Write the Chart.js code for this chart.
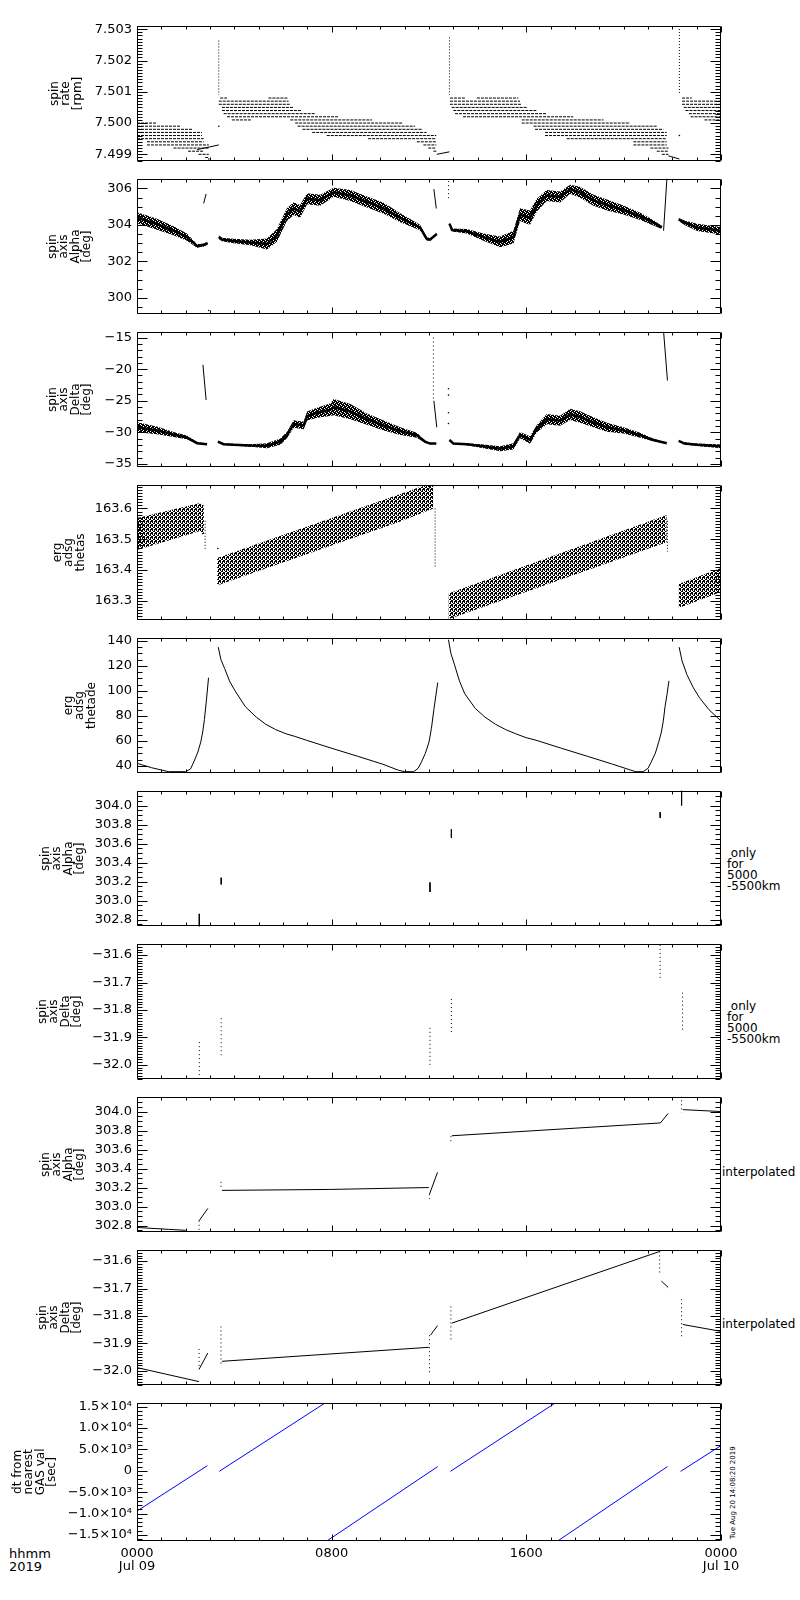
<!DOCTYPE html>
<html lang="en">
<head>
<meta charset="utf-8">
<title>spin axis / erg adsg</title>
<script src="https://cdn.jsdelivr.net/npm/chart.js@4.4.1/dist/chart.umd.min.js"></script>
<style>
  body { margin: 0; background: #fff; }
  #page { position: relative; width: 800px; height: 1600px; font-family: "DejaVu Sans", sans-serif; color: #000; overflow: hidden; }
  #page canvas { position: absolute; left: 0; }
  .side { position: absolute; font-size: 12px; line-height: 11px; white-space: nowrap; }
  .stamp { position: absolute; font-size: 7px; line-height: 8px; white-space: nowrap; transform: rotate(-90deg); transform-origin: 0 0; }
</style>
</head>
<body>
<div id="page">
  <div class="side" style="left:727px;top:848px">&nbsp;only<br>for<br>5000<br>-5500km</div>
  <div class="side" style="left:727px;top:1001px">&nbsp;only<br>for<br>5000<br>-5500km</div>
  <div class="side" style="left:722px;top:1166px;line-height:12px">interpolated</div>
  <div class="side" style="left:722px;top:1318px;line-height:12px">interpolated</div>
  <div class="side" style="left:9px;top:1547px;font-size:13px;line-height:13px">hhmm<br>2019</div>
  <div class="stamp" style="left:729px;top:1539px">Tue Aug 20 14:08:20 2019</div>
</div>
<script>
// ---- time axis (hours from 0000 Jul 09) ----
const HOURS_MAJOR = [0, 8, 16, 24];
const X_LABELS = [['0000', 'Jul 09'], '0800', '1600', ['0000', 'Jul 10']];

// ---- panel 1: spin rate [rpm], quantised rows [level, from h, to h] ----
const rateRows = [
  [7.5000, 0, 0.82], [7.4999, 0, 1.78], [7.4998, 0, 2.26], [7.4997, 0, 2.67], [7.4996, 0, 2.67],
  [7.4995, 0, 2.74], [7.4994, 0.41, 2.74], [7.4993, 0.41, 2.95], [7.4992, 1.5, 2.95], [7.4991, 2.1, 2.74],
  [7.4990, 2.53, 2.95], [7.4989, 2.8, 2.95],
  [7.5008, 3.42, 3.7], [7.5008, 5.4, 6.2], [7.5007, 3.36, 6.23], [7.5006, 3.36, 6.3], [7.5005, 3.49, 6.44],
  [7.5004, 3.49, 6.78], [7.5003, 3.56, 7.33], [7.5002, 3.7, 8.29], [7.5001, 3.9, 4.7], [7.5001, 6.3, 9.66],
  [7.5000, 6.5, 10.9], [7.4999, 6.6, 11.43], [7.4998, 6.8, 11.74], [7.4997, 7.2, 11.9], [7.4996, 7.8, 12.3],
  [7.4995, 9.5, 12.3], [7.4994, 11.5, 12.3], [7.4993, 11.77, 12.3], [7.4992, 11.97, 12.3], [7.4991, 12.18, 12.3],
  [7.5008, 12.86, 13.49], [7.5008, 13.97, 15.67], [7.5007, 12.86, 15.74], [7.5006, 12.86, 15.81], [7.5005, 12.93, 16.02],
  [7.5004, 13.0, 16.43], [7.5003, 13.07, 16.84], [7.5002, 13.4, 17.93], [7.5001, 15.81, 19.17], [7.5000, 15.81, 20.26],
  [7.4999, 16.3, 21.36], [7.4998, 16.36, 21.63], [7.4997, 16.77, 21.77], [7.4996, 16.77, 21.77], [7.4995, 17.66, 21.77],
  [7.4994, 20.4, 21.77], [7.4993, 20.4, 21.77], [7.4992, 21.1, 21.84], [7.4991, 21.36, 21.84], [7.4990, 21.57, 21.84],
  [7.5008, 22.4, 22.8], [7.5007, 22.4, 24], [7.5006, 22.4, 24], [7.5005, 22.47, 24], [7.5004, 22.54, 24],
  [7.5003, 22.68, 24], [7.5002, 22.75, 24], [7.5001, 23.32, 24]
];
const rateRuns = [[3.36, 7.50264, 7.5009], [12.84, 7.50274, 7.5009], [22.29, 7.5032, 7.5009]];
const rateLinks = [[2.47, 7.49915, 3.36, 7.4993], [12.32, 7.4990, 12.84, 7.49908], [21.84, 7.49895, 22.29, 7.49885]];
const rateDots = [[3.36, 7.4999], [22.29, 7.4996], [2.95, 7.49885]];

// ---- panel 2: spin axis Alpha [deg], band centre and spread per orbit ----
const alphaH = [
  [0, 0.82, 1.5, 2.05, 2.47, 2.74, 2.9],
  [3.36, 3.49, 3.97, 4.66, 5.34, 5.75, 6.16, 6.44, 6.7, 6.99, 7.53, 8.08, 8.77, 9.45, 10.14, 10.82, 11.63, 11.9, 12.04, 12.32],
  [12.84, 12.95, 13.55, 14.24, 14.92, 15.47, 15.74, 16.15, 16.43, 16.84, 17.39, 17.8, 18.21, 18.76, 19.31, 19.99, 20.68, 21.22, 21.57],
  [22.26, 22.5, 23.02, 24]
];
const alphaMid = [
  [304.39, 304.04, 303.68, 303.33, 302.84, 302.9, 303.0],
  [303.33, 303.2, 303.12, 303.04, 302.95, 303.42, 304.56, 304.9, 304.74, 305.44, 305.35, 305.79, 305.61, 305.26, 304.91, 304.39, 303.86, 303.25, 303.19, 303.5],
  [304.07, 303.72, 303.65, 303.33, 303.07, 303.33, 304.56, 304.39, 305.09, 305.61, 305.53, 305.96, 305.79, 305.35, 305.09, 304.82, 304.47, 304.12, 303.86],
  [304.3, 304.12, 303.86, 303.68]
];
const alphaSpread = [
  [0.3, 0.3, 0.25, 0.2, 0.1, 0.08, 0.08],
  [0.1, 0.1, 0.12, 0.15, 0.3, 0.35, 0.35, 0.35, 0.35, 0.3, 0.3, 0.25, 0.3, 0.3, 0.3, 0.25, 0.15, 0.1, 0.08, 0.05],
  [0.05, 0.08, 0.12, 0.2, 0.3, 0.35, 0.35, 0.4, 0.35, 0.3, 0.3, 0.25, 0.3, 0.3, 0.3, 0.25, 0.2, 0.15, 0.08],
  [0.08, 0.12, 0.2, 0.2]
];
const alphaJumps = [[2.74, 305.18, 2.84, 305.7], [12.2, 305.96, 12.3, 304.9], [21.64, 303.68, 21.78, 306.6]];
const alphaRuns = [[12.8, 306.4, 305.44]];
const alphaDots = [[2.95, 299.3]];

// ---- panel 3: spin axis Delta [deg] ----
const deltaH = [
  [0, 0.82, 1.5, 2.05, 2.47, 2.88],
  [3.32, 3.56, 3.97, 4.66, 5.34, 5.89, 6.16, 6.44, 6.85, 6.99, 7.4, 7.95, 8.08, 8.77, 9.45, 10.14, 10.82, 11.5, 11.84, 12.04, 12.3],
  [12.84, 13.0, 13.55, 14.24, 14.92, 15.47, 15.74, 16.15, 16.43, 16.84, 17.39, 17.8, 18.21, 18.76, 19.31, 19.99, 20.68, 21.22, 21.77],
  [22.26, 22.5, 23.02, 24]
];
const deltaMid = [
  [-29.18, -29.68, -30.34, -30.8, -31.7, -31.86],
  [-31.46, -31.86, -31.96, -32.06, -32.1, -31.46, -30.44, -28.67, -28.9, -27.4, -26.9, -26.4, -26.0, -26.7, -27.9, -28.9, -29.8, -30.44, -31.46, -31.76, -31.76],
  [-31.2, -31.76, -31.86, -32.2, -32.57, -32.2, -30.44, -31.2, -29.43, -27.9, -28.16, -27.15, -27.56, -28.4, -29.18, -29.68, -30.44, -31.2, -31.7],
  [-31.35, -31.76, -31.96, -32.2]
];
const deltaSpread = [
  [0.8, 0.6, 0.4, 0.3, 0.15, 0.1],
  [0.1, 0.1, 0.15, 0.2, 0.4, 0.5, 0.5, 0.6, 0.6, 0.7, 0.8, 1.0, 1.3, 1.2, 0.9, 0.8, 0.6, 0.4, 0.2, 0.1, 0.1],
  [0.1, 0.1, 0.15, 0.3, 0.4, 0.5, 0.5, 0.6, 0.6, 0.8, 0.8, 0.9, 0.9, 0.8, 0.7, 0.5, 0.4, 0.2, 0.1],
  [0.1, 0.15, 0.2, 0.3]
];
const deltaJumps = [[2.71, -19.3, 2.84, -24.87], [12.2, -25, 12.32, -29.2], [21.64, -14.0, 21.8, -21.8]];
const deltaRuns = [[12.18, -15, -25]];
const deltaDots = [[12.8, -23.1], [12.8, -24.1], [12.8, -26.9], [12.8, -28.6]];

// ---- panel 4: erg adsg thetas, band edges per orbit ----
const thetasH = [[0, 2.6, 2.75], [3.29, 10.82, 12.18], [12.8, 21.77], [22.26, 24]];
const thetasLo = [[163.465, 163.527, 163.51], [163.35, 163.558, 163.6], [163.24, 163.49], [163.277, 163.329]];
const thetasHi = [[163.569, 163.618, 163.61], [163.439, 163.647, 163.685], [163.324, 163.579], [163.355, 163.407]];
const thetasRuns = [[2.8, 163.56, 163.465], [12.25, 163.6, 163.41], [21.8, 163.56, 163.46]];
const thetasDots = [[3.32, 163.47]];

// ---- panel 5: erg adsg thetade ----
const thetadeH = [
  [0, 0.6, 1.3, 2.0, 2.2, 2.35, 2.5, 2.62, 2.7, 2.77, 2.85, 2.94],
  [3.34, 3.45, 3.6, 3.8, 4.03, 4.45, 4.9, 5.29, 5.7, 6.13, 6.5, 6.96, 8.01, 9.06, 10.1, 10.74, 11.0, 11.37, 11.55, 11.68, 11.85, 12.0, 12.1, 12.2, 12.28, 12.36],
  [12.8, 12.9, 13.05, 13.25, 13.47, 13.9, 14.3, 14.73, 15.15, 15.57, 16.0, 16.4, 17.45, 18.5, 19.55, 20.3, 20.5, 20.8, 21.0, 21.12, 21.3, 21.44, 21.55, 21.63, 21.7, 21.78, 21.86],
  [22.28, 22.4, 22.6, 22.85, 23.1, 23.5, 24]
];
const thetadeV = [
  [42, 38.5, 35.3, 35.3, 37.5, 43.8, 51, 59, 67, 77, 92, 110.5],
  [135, 125, 118, 108, 100, 87.4, 79, 73.3, 69, 65.6, 63.5, 60.5, 54, 47.7, 41.3, 36.5, 35.3, 35.3, 38, 42.6, 50, 59, 70, 85, 96, 106.7],
  [141, 130, 120.8, 108, 97.7, 86, 79, 73.3, 69, 65.6, 62.5, 60.5, 54, 47.7, 41.3, 36.5, 35.3, 35.3, 38, 42.6, 50, 59, 67, 76, 87.4, 97, 108],
  [135, 124, 113, 103, 95, 85, 76]
];

// ---- panels 6/7: only for 5000-5500 km, vertical runs [h, from, to] ----
const alphaNearRuns = [[2.56, 302.86, 302.72], [3.46, 303.24, 303.17], [12.04, 303.19, 303.09], [12.92, 303.75, 303.66], [21.5, 303.93, 303.87], [22.38, 304.16, 304.0]];
const deltaNearRuns = [[2.56, -31.917, -32.04], [3.46, -31.83, -31.97], [12.04, -31.865, -32.005], [12.92, -31.76, -31.88], [21.5, -31.563, -31.685], [22.42, -31.737, -31.88]];

// ---- panels 8/9: interpolated ----
const alphaIntH = [[0, 1.29, 2.0], [2.55, 2.91], [3.49, 7.9, 11.99], [12.02, 12.35], [12.94, 21.51, 21.83], [22.43, 24]];
const alphaIntV = [[302.78, 302.76, 302.75], [302.85, 302.98], [303.17, 303.18, 303.2], [303.13, 303.36], [303.745, 303.88, 303.98], [304.02, 304.0]];
const alphaIntRuns = [[2.55, 302.85, 302.75], [3.45, 303.26, 303.2], [12.02, 303.13, 303.08], [12.9, 303.74, 303.67], [22.38, 304.16, 303.99]];
const deltaIntH = [[0, 2.55], [2.55, 2.91], [3.49, 11.99], [12.06, 12.35], [12.94, 21.48], [21.55, 21.83], [22.43, 24]];
const deltaIntV = [[-31.988, -32.039], [-31.994, -31.935], [-31.965, -31.914], [-31.87, -31.835], [-31.826, -31.565], [-31.673, -31.696], [-31.831, -31.856]];
const deltaIntRuns = [[2.55, -31.92, -31.994], [3.45, -31.838, -31.976], [12.02, -31.87, -32.01], [12.9, -31.765, -31.888], [21.48, -31.565, -31.65], [22.38, -31.739, -31.88]];

// ---- panel 10: dt from nearest GAS val [sec] ----
const dtH = [[0, 2.89], [3.38, 7.74], [7.80, 12.36], [12.88, 17.2], [17.29, 21.8], [22.34, 24]];
const dtV = [[-9400, 1200], [-120, 15900], [-16400, 1000], [-120, 15900], [-16400, 1000], [-120, 5900]];

// ---- layout ----
const PANEL_TOP = [23, 176, 329, 482, 635, 788, 941, 1094, 1247, 1400];
const PANEL_H = 141;
const FONT = '"DejaVu Sans", sans-serif';
Chart.defaults.font.family = FONT;
Chart.defaults.color = '#000';

// helpers that turn the arrays above into Chart.js points
function curve(h, v) { return h.map((x, i) => ({ x: x, y: v[i] })); }
function joined(hs, vs) {
  const out = [];
  hs.forEach((h, j) => { out.push(...curve(h, vs[j])); out.push({ x: h[h.length - 1], y: null }); });
  return out;
}
function runs(list) {
  const out = [];
  list.forEach(r => { out.push({ x: r[0], y: r[1] }, { x: r[0], y: r[2] }, { x: r[0], y: null }); });
  return out;
}
function rows(list) {
  const out = [];
  list.forEach(r => { out.push({ x: r[1], y: r[0] }, { x: r[2], y: r[0] }, { x: r[2], y: null }); });
  return out;
}
function jumps(list) {
  const out = [];
  list.forEach(r => { out.push({ x: r[0], y: r[1] }, { x: r[2], y: r[3] }, { x: r[2], y: null }); });
  return out;
}
function dots(list) { return list.map(p => ({ x: p[0], y: p[1] })); }

function pattern(size, bits) {
  const c = document.createElement('canvas');
  c.width = size; c.height = size;
  const g = c.getContext('2d');
  g.fillStyle = '#000';
  bits.forEach(b => g.fillRect(b[0], b[1], 1, 1));
  return g.createPattern(c, 'repeat');
}
// speckled core for the noisy attitude bands, vertical hatch for thetas
const STIPPLE = pattern(4, [[0, 0], [1, 0], [3, 0], [1, 1], [2, 1], [3, 1], [0, 2], [2, 2], [3, 2], [0, 3], [1, 3], [2, 3]]);
const HATCH = pattern(4, [[0, 0], [0, 1], [0, 2], [2, 1], [2, 2], [2, 3], [1, 3], [3, 0], [3, 1]]);

function solid(data, color, width) {
  return { data: data, borderColor: color || '#000', borderWidth: width || 1, pointRadius: 0, tension: 0, fill: false };
}
function dashed(data, dash) {
  return { data: data, borderColor: '#000', borderWidth: 1, borderDash: dash, pointRadius: 0, tension: 0, fill: false };
}
function points(data) {
  return { data: data, showLine: false, pointRadius: 0.8, pointBackgroundColor: '#000', pointBorderWidth: 0, borderColor: '#000' };
}
function envelope(hs, lo, hi, fillStyle) {
  const sets = [];
  hs.forEach((h, j) => {
    sets.push({ data: curve(h, lo[j]), borderWidth: 0, borderColor: 'rgba(0,0,0,0)', pointRadius: 0, tension: 0, fill: false });
    sets.push({ data: curve(h, hi[j]), borderWidth: 0, borderColor: 'rgba(0,0,0,0)', pointRadius: 0, tension: 0, fill: '-1', backgroundColor: fillStyle });
  });
  return sets;
}
function spreadBand(hs, mid, spread, fillStyle) {
  const lo = mid.map((m, j) => m.map((v, i) => v - spread[j][i]));
  const hi = mid.map((m, j) => m.map((v, i) => v + spread[j][i]));
  return envelope(hs, lo, hi, fillStyle);
}

// IDL style frame with inward major/minor ticks on all four sides
const idlFrame = {
  id: 'idl',
  afterDatasetsDraw(chart, args, o) {
    const ctx = chart.ctx, a = chart.chartArea, xs = chart.scales.x, ys = chart.scales.y;
    const L = Math.round(a.left) + 0.5, R = Math.round(a.right) - 0.5;
    const T = Math.round(a.top) + 0.5, B = Math.round(a.bottom) - 0.5;
    ctx.save();
    ctx.strokeStyle = '#000';
    ctx.lineWidth = 1;
    ctx.beginPath();
    ctx.rect(L, T, R - L, B - T);
    for (let h = 0; h <= 24; h++) {
      const px = Math.round(xs.getPixelForValue(h)) + 0.5;
      const len = h % 8 === 0 ? 6 : 3;
      ctx.moveTo(px, B); ctx.lineTo(px, B - len);
      ctx.moveTo(px, T); ctx.lineTo(px, T + len);
    }
    const ratio = Math.round(o.major / o.minor);
    const k0 = Math.ceil(ys.min / o.minor - 1e-6), k1 = Math.floor(ys.max / o.minor + 1e-6);
    for (let k = k0; k <= k1; k++) {
      const py = Math.round(ys.getPixelForValue(k * o.minor)) + 0.5;
      const len = ((k % ratio) + ratio) % ratio === 0 ? 10 : 5;
      ctx.moveTo(L, py); ctx.lineTo(L + len, py);
      ctx.moveTo(R, py); ctx.lineTo(R - len, py);
    }
    ctx.stroke();
    ctx.restore();
  }
};

const page = document.getElementById('page');
function panel(idx, cfg) {
  const last = idx === PANEL_TOP.length - 1;
  const h = last ? 201 : PANEL_H + 20;
  const cv = document.createElement('canvas');
  cv.style.top = (PANEL_TOP[idx] - 10) + 'px';
  cv.style.width = '800px';
  cv.style.height = h + 'px';
  cv.width = 800;
  cv.height = h;
  page.appendChild(cv);
  new Chart(cv, {
    type: 'line',
    data: { datasets: cfg.datasets },
    options: {
      responsive: false,
      animation: false,
      events: [],
      layout: { padding: { left: 0, right: 79, top: 10, bottom: 10 } },
      plugins: {
        legend: { display: false },
        tooltip: { enabled: false },
        idl: { minor: cfg.minor, major: cfg.major }
      },
      scales: {
        x: {
          type: 'linear', min: 0, max: 24,
          grid: { display: false, drawTicks: false },
          border: { display: false },
          afterBuildTicks: s => { s.ticks = HOURS_MAJOR.map(v => ({ value: v })); },
          afterFit: s => { s.height = last ? 40 : 0; },
          ticks: {
            display: last, padding: 6, maxRotation: 0, autoSkip: false, color: '#000',
            font: { family: FONT, size: 13, lineHeight: '13px' },
            callback: (v, i) => X_LABELS[i]
          }
        },
        y: {
          type: 'linear', min: cfg.min, max: cfg.max,
          grid: { display: false, drawTicks: false },
          border: { display: false },
          afterBuildTicks: s => { s.ticks = cfg.ticks.map(v => ({ value: v })); },
          afterFit: s => { s.width = 137; },
          ticks: {
            padding: 5, autoSkip: false, color: '#000',
            font: { family: FONT, size: 13 },
            callback: (v, i) => cfg.labels[i]
          },
          title: {
            display: true, text: cfg.title, color: '#000',
            font: { family: FONT, size: 12, lineHeight: '11.5px' },
            padding: { top: cfg.titleX - 6, bottom: 0 }
          }
        }
      }
    },
    plugins: [idlFrame]
  });
}

panel(0, {
  title: ['spin', 'rate', '[rpm]'], titleX: 55,
  min: 7.49878, max: 7.50311, minor: 0.0001, major: 0.001,
  ticks: [7.499, 7.500, 7.501, 7.502, 7.503], labels: ['7.499', '7.500', '7.501', '7.502', '7.503'],
  datasets: [dashed(rows(rateRows), [3, 1]), dashed(runs(rateRuns), [1, 2]), solid(jumps(rateLinks)), points(dots(rateDots))]
});

panel(1, {
  title: ['spin', 'axis', 'Alpha', '[deg]'], titleX: 53,
  min: 299.1, max: 306.53, minor: 0.5, major: 2,
  ticks: [300, 302, 304, 306], labels: ['300', '302', '304', '306'],
  datasets: spreadBand(alphaH, alphaMid, alphaSpread, STIPPLE).concat([
    solid(joined(alphaH, alphaMid), '#000', 2.5),
    solid(jumps(alphaJumps)), dashed(runs(alphaRuns), [1, 3]), points(dots(alphaDots))
  ])
});

panel(2, {
  title: ['spin', 'axis', 'Delta', '[deg]'], titleX: 53,
  min: -35.5, max: -14.09, minor: 1, major: 5,
  ticks: [-35, -30, -25, -20, -15], labels: ['\u221235', '\u221230', '\u221225', '\u221220', '\u221215'],
  datasets: spreadBand(deltaH, deltaMid, deltaSpread, STIPPLE).concat([
    solid(joined(deltaH, deltaMid), '#000', 2.5),
    solid(jumps(deltaJumps)), dashed(runs(deltaRuns), [1, 3]), points(dots(deltaDots))
  ])
});

panel(3, {
  title: ['erg', 'adsg', 'thetas'], titleX: 58,
  min: 163.237, max: 163.677, minor: 0.01, major: 0.1,
  ticks: [163.3, 163.4, 163.5, 163.6], labels: ['163.3', '163.4', '163.5', '163.6'],
  datasets: envelope(thetasH, thetasLo, thetasHi, HATCH).concat([
    dashed(runs(thetasRuns), [1, 2]), points(dots(thetasDots))
  ])
});

panel(4, {
  title: ['erg', 'adsg', 'thetade'], titleX: 69,
  min: 34.1, max: 142.5, minor: 5, major: 20,
  ticks: [40, 60, 80, 100, 120, 140], labels: ['40', '60', '80', '100', '120', '140'],
  datasets: [solid(joined(thetadeH, thetadeV))]
});

panel(5, {
  title: ['spin', 'axis', 'Alpha', '[deg]'], titleX: 46,
  min: 302.73, max: 304.155, minor: 0.05, major: 0.2,
  ticks: [302.8, 303.0, 303.2, 303.4, 303.6, 303.8, 304.0],
  labels: ['302.8', '303.0', '303.2', '303.4', '303.6', '303.8', '304.0'],
  datasets: [solid(runs(alphaNearRuns))]
});

panel(6, {
  title: ['spin', 'axis', 'Delta', '[deg]'], titleX: 43,
  min: -32.052, max: -31.559, minor: 0.01, major: 0.1,
  ticks: [-32.0, -31.9, -31.8, -31.7, -31.6],
  labels: ['\u221232.0', '\u221231.9', '\u221231.8', '\u221231.7', '\u221231.6'],
  datasets: [dashed(runs(deltaNearRuns), [1, 3])]
});

panel(7, {
  title: ['spin', 'axis', 'Alpha', '[deg]'], titleX: 46,
  min: 302.73, max: 304.155, minor: 0.05, major: 0.2,
  ticks: [302.8, 303.0, 303.2, 303.4, 303.6, 303.8, 304.0],
  labels: ['302.8', '303.0', '303.2', '303.4', '303.6', '303.8', '304.0'],
  datasets: [solid(joined(alphaIntH, alphaIntV)), dashed(runs(alphaIntRuns), [1, 3])]
});

panel(8, {
  title: ['spin', 'axis', 'Delta', '[deg]'], titleX: 43,
  min: -32.052, max: -31.559, minor: 0.01, major: 0.1,
  ticks: [-32.0, -31.9, -31.8, -31.7, -31.6],
  labels: ['\u221232.0', '\u221231.9', '\u221231.8', '\u221231.7', '\u221231.6'],
  datasets: [solid(joined(deltaIntH, deltaIntV)), dashed(runs(deltaIntRuns), [1, 3])]
});

panel(9, {
  title: ['dt from', 'nearest', 'GAS val', '[sec]'], titleX: 18,
  min: -16400, max: 15900, minor: 1000, major: 5000,
  ticks: [-15000, -10000, -5000, 0, 5000, 10000, 15000],
  labels: ['\u22121.5\u00d710\u2074', '\u22121.0\u00d710\u2074', '\u22125.0\u00d710\u00b3', '0', '5.0\u00d710\u00b3', '1.0\u00d710\u2074', '1.5\u00d710\u2074'],
  datasets: [solid(joined(dtH, dtV), '#0000ff', 1)]
});
</script>
</body>
</html>
